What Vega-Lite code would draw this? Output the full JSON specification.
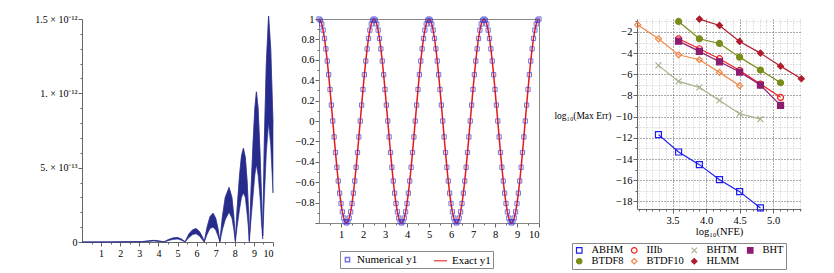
{
"$schema":"https://vega.github.io/schema/vega-lite/v6.json",
"background":"white",
"padding":{"left":34,"top":13,"right":2,"bottom":2},
"config":{"font":"Liberation Serif","axis":{"labelFont":"Liberation Serif","labelFontSize":10.5,"labelColor":"#000","titleFont":"Liberation Serif","titleFontWeight":"normal","titleFontSize":10.5,"titleColor":"#000","domainColor":"#666","tickColor":"#666","grid":false},"legend":{"labelFont":"Liberation Serif","labelFontSize":11,"labelColor":"#000"}},
"datasets":{
"err":[{"x":0,"lo":0,"hi":0},{"x":0.5,"lo":0,"hi":0.0002e-12},{"x":1,"lo":0,"hi":0.0005e-12},{"x":1.5,"lo":0,"hi":0.0008e-12},{"x":2,"lo":0,"hi":0.0012e-12},{"x":2.5,"lo":0.0005e-12,"hi":0.002e-12},{"x":2.8,"lo":0.001e-12,"hi":0.003e-12},{"x":3.1,"lo":0.0005e-12,"hi":0.002e-12},{"x":3.3,"lo":0.002e-12,"hi":0.005e-12},{"x":3.5,"lo":0.004e-12,"hi":0.008e-12},{"x":3.75,"lo":0.006e-12,"hi":0.011e-12},{"x":4.0,"lo":0.004e-12,"hi":0.008e-12},{"x":4.2,"lo":0.001e-12,"hi":0.003e-12},{"x":4.3,"lo":0,"hi":0.001e-12},{"x":4.5,"lo":0.008e-12,"hi":0.015e-12},{"x":4.75,"lo":0.017e-12,"hi":0.027e-12},{"x":5.0,"lo":0.02e-12,"hi":0.031e-12},{"x":5.2,"lo":0.012e-12,"hi":0.02e-12},{"x":5.4,"lo":0,"hi":0.002e-12},{"x":5.6,"lo":0.03e-12,"hi":0.055e-12},{"x":5.8,"lo":0.05e-12,"hi":0.083e-12},{"x":5.97,"lo":0.055e-12,"hi":0.09e-12},{"x":6.15,"lo":0.04e-12,"hi":0.07e-12},{"x":6.3,"lo":0.015e-12,"hi":0.035e-12},{"x":6.4,"lo":0,"hi":0.003e-12},{"x":6.55,"lo":0.05e-12,"hi":0.1e-12},{"x":6.7,"lo":0.09e-12,"hi":0.17e-12},{"x":6.86,"lo":0.1e-12,"hi":0.194e-12},{"x":7.0,"lo":0.08e-12,"hi":0.16e-12},{"x":7.12,"lo":0.04e-12,"hi":0.09e-12},{"x":7.22,"lo":0,"hi":0.005e-12},{"x":7.35,"lo":0.08e-12,"hi":0.17e-12},{"x":7.5,"lo":0.15e-12,"hi":0.3e-12},{"x":7.7,"lo":0.2e-12,"hi":0.367e-12},{"x":7.85,"lo":0.16e-12,"hi":0.3e-12},{"x":7.95,"lo":0.08e-12,"hi":0.17e-12},{"x":8.03,"lo":0,"hi":0.01e-12},{"x":8.12,"lo":0.1e-12,"hi":0.22e-12},{"x":8.25,"lo":0.22e-12,"hi":0.45e-12},{"x":8.35,"lo":0.3e-12,"hi":0.58e-12},{"x":8.45,"lo":0.33e-12,"hi":0.63e-12},{"x":8.55,"lo":0.3e-12,"hi":0.57e-12},{"x":8.65,"lo":0.18e-12,"hi":0.4e-12},{"x":8.72,"lo":0.08e-12,"hi":0.2e-12},{"x":8.76,"lo":0,"hi":0.01e-12},{"x":8.85,"lo":0.15e-12,"hi":0.35e-12},{"x":8.95,"lo":0.3e-12,"hi":0.65e-12},{"x":9.05,"lo":0.45e-12,"hi":0.9e-12},{"x":9.13,"lo":0.52e-12,"hi":1.01e-12},{"x":9.22,"lo":0.45e-12,"hi":0.9e-12},{"x":9.32,"lo":0.3e-12,"hi":0.6e-12},{"x":9.4,"lo":0.12e-12,"hi":0.3e-12},{"x":9.46,"lo":0.02e-12,"hi":0.04e-12},{"x":9.55,"lo":0.3e-12,"hi":0.7e-12},{"x":9.65,"lo":0.6e-12,"hi":1.2e-12},{"x":9.77,"lo":0.8e-12,"hi":1.52e-12},{"x":9.88,"lo":0.65e-12,"hi":1.3e-12},{"x":10,"lo":0.33e-12,"hi":0.8e-12}],
"sol":[{"x":0,"y":1},{"x":0.0625,"y":0.988},{"x":0.125,"y":0.951},{"x":0.1875,"y":0.891},{"x":0.25,"y":0.809},{"x":0.3125,"y":0.707},{"x":0.375,"y":0.588},{"x":0.4375,"y":0.454},{"x":0.5,"y":0.309},{"x":0.5625,"y":0.156},{"x":0.625,"y":0},{"x":0.6875,"y":-0.156},{"x":0.75,"y":-0.309},{"x":0.8125,"y":-0.454},{"x":0.875,"y":-0.588},{"x":0.9375,"y":-0.707},{"x":1,"y":-0.809},{"x":1.0625,"y":-0.891},{"x":1.125,"y":-0.951},{"x":1.1875,"y":-0.988},{"x":1.25,"y":-1},{"x":1.3125,"y":-0.988},{"x":1.375,"y":-0.951},{"x":1.4375,"y":-0.891},{"x":1.5,"y":-0.809},{"x":1.5625,"y":-0.707},{"x":1.625,"y":-0.588},{"x":1.6875,"y":-0.454},{"x":1.75,"y":-0.309},{"x":1.8125,"y":-0.156},{"x":1.875,"y":0},{"x":1.9375,"y":0.156},{"x":2,"y":0.309},{"x":2.0625,"y":0.454},{"x":2.125,"y":0.588},{"x":2.1875,"y":0.707},{"x":2.25,"y":0.809},{"x":2.3125,"y":0.891},{"x":2.375,"y":0.951},{"x":2.4375,"y":0.988},
{"x":2.5,"y":1},{"x":2.5625,"y":0.988},{"x":2.625,"y":0.951},{"x":2.6875,"y":0.891},{"x":2.75,"y":0.809},{"x":2.8125,"y":0.707},{"x":2.875,"y":0.588},{"x":2.9375,"y":0.454},{"x":3,"y":0.309},{"x":3.0625,"y":0.156},{"x":3.125,"y":0},{"x":3.1875,"y":-0.156},{"x":3.25,"y":-0.309},{"x":3.3125,"y":-0.454},{"x":3.375,"y":-0.588},{"x":3.4375,"y":-0.707},{"x":3.5,"y":-0.809},{"x":3.5625,"y":-0.891},{"x":3.625,"y":-0.951},{"x":3.6875,"y":-0.988},{"x":3.75,"y":-1},{"x":3.8125,"y":-0.988},{"x":3.875,"y":-0.951},{"x":3.9375,"y":-0.891},{"x":4,"y":-0.809},{"x":4.0625,"y":-0.707},{"x":4.125,"y":-0.588},{"x":4.1875,"y":-0.454},{"x":4.25,"y":-0.309},{"x":4.3125,"y":-0.156},{"x":4.375,"y":0},{"x":4.4375,"y":0.156},{"x":4.5,"y":0.309},{"x":4.5625,"y":0.454},{"x":4.625,"y":0.588},{"x":4.6875,"y":0.707},{"x":4.75,"y":0.809},{"x":4.8125,"y":0.891},{"x":4.875,"y":0.951},{"x":4.9375,"y":0.988},
{"x":5,"y":1},{"x":5.0625,"y":0.988},{"x":5.125,"y":0.951},{"x":5.1875,"y":0.891},{"x":5.25,"y":0.809},{"x":5.3125,"y":0.707},{"x":5.375,"y":0.588},{"x":5.4375,"y":0.454},{"x":5.5,"y":0.309},{"x":5.5625,"y":0.156},{"x":5.625,"y":0},{"x":5.6875,"y":-0.156},{"x":5.75,"y":-0.309},{"x":5.8125,"y":-0.454},{"x":5.875,"y":-0.588},{"x":5.9375,"y":-0.707},{"x":6,"y":-0.809},{"x":6.0625,"y":-0.891},{"x":6.125,"y":-0.951},{"x":6.1875,"y":-0.988},{"x":6.25,"y":-1},{"x":6.3125,"y":-0.988},{"x":6.375,"y":-0.951},{"x":6.4375,"y":-0.891},{"x":6.5,"y":-0.809},{"x":6.5625,"y":-0.707},{"x":6.625,"y":-0.588},{"x":6.6875,"y":-0.454},{"x":6.75,"y":-0.309},{"x":6.8125,"y":-0.156},{"x":6.875,"y":0},{"x":6.9375,"y":0.156},{"x":7,"y":0.309},{"x":7.0625,"y":0.454},{"x":7.125,"y":0.588},{"x":7.1875,"y":0.707},{"x":7.25,"y":0.809},{"x":7.3125,"y":0.891},{"x":7.375,"y":0.951},{"x":7.4375,"y":0.988},
{"x":7.5,"y":1},{"x":7.5625,"y":0.988},{"x":7.625,"y":0.951},{"x":7.6875,"y":0.891},{"x":7.75,"y":0.809},{"x":7.8125,"y":0.707},{"x":7.875,"y":0.588},{"x":7.9375,"y":0.454},{"x":8,"y":0.309},{"x":8.0625,"y":0.156},{"x":8.125,"y":0},{"x":8.1875,"y":-0.156},{"x":8.25,"y":-0.309},{"x":8.3125,"y":-0.454},{"x":8.375,"y":-0.588},{"x":8.4375,"y":-0.707},{"x":8.5,"y":-0.809},{"x":8.5625,"y":-0.891},{"x":8.625,"y":-0.951},{"x":8.6875,"y":-0.988},{"x":8.75,"y":-1},{"x":8.8125,"y":-0.988},{"x":8.875,"y":-0.951},{"x":8.9375,"y":-0.891},{"x":9,"y":-0.809},{"x":9.0625,"y":-0.707},{"x":9.125,"y":-0.588},{"x":9.1875,"y":-0.454},{"x":9.25,"y":-0.309},{"x":9.3125,"y":-0.156},{"x":9.375,"y":0},{"x":9.4375,"y":0.156},{"x":9.5,"y":0.309},{"x":9.5625,"y":0.454},{"x":9.625,"y":0.588},{"x":9.6875,"y":0.707},{"x":9.75,"y":0.809},{"x":9.8125,"y":0.891},{"x":9.875,"y":0.951},{"x":9.9375,"y":0.988},{"x":10,"y":1}],
"conv":[
{"m":"ABHM","x":3.29,"y":-11.7},{"m":"ABHM","x":3.59,"y":-13.34},{"m":"ABHM","x":3.9,"y":-14.53},{"m":"ABHM","x":4.2,"y":-15.95},{"m":"ABHM","x":4.5,"y":-17.08},{"m":"ABHM","x":4.81,"y":-18.62},
{"m":"IIIb","x":3.59,"y":-2.65},{"m":"IIIb","x":3.9,"y":-3.59},{"m":"IIIb","x":4.2,"y":-4.53},{"m":"IIIb","x":4.5,"y":-5.64},{"m":"IIIb","x":4.81,"y":-6.92},{"m":"IIIb","x":5.11,"y":-8.18},
{"m":"BHTM","x":3.29,"y":-5.16},{"m":"BHTM","x":3.59,"y":-6.67},{"m":"BHTM","x":3.9,"y":-7.24},{"m":"BHTM","x":4.2,"y":-8.47},{"m":"BHTM","x":4.5,"y":-9.72},{"m":"BHTM","x":4.81,"y":-10.23},
{"m":"BHT","x":3.59,"y":-2.87},{"m":"BHT","x":3.9,"y":-3.84},{"m":"BHT","x":4.2,"y":-4.82},{"m":"BHT","x":4.5,"y":-5.79},{"m":"BHT","x":4.81,"y":-7.02},{"m":"BHT","x":5.11,"y":-8.94},
{"m":"BTDF8","x":3.59,"y":-1.01},{"m":"BTDF8","x":3.9,"y":-2.65},{"m":"BTDF8","x":4.2,"y":-3.09},{"m":"BTDF8","x":4.5,"y":-4.38},{"m":"BTDF8","x":4.81,"y":-5.6},{"m":"BTDF8","x":5.11,"y":-6.8},
{"m":"BTDF10","x":2.98,"y":-1.33},{"m":"BTDF10","x":3.29,"y":-2.65},{"m":"BTDF10","x":3.59,"y":-4.16},{"m":"BTDF10","x":3.9,"y":-4.63},{"m":"BTDF10","x":4.2,"y":-5.82},{"m":"BTDF10","x":4.5,"y":-7.08},
{"m":"HLMM","x":3.9,"y":-0.79},{"m":"HLMM","x":4.2,"y":-1.39},{"m":"HLMM","x":4.5,"y":-2.9},{"m":"HLMM","x":4.81,"y":-4.0},{"m":"HLMM","x":5.11,"y":-5.23},{"m":"HLMM","x":5.42,"y":-6.42}]
},
"resolve":{"scale":{"stroke":"independent","fill":"independent","shape":"independent","size":"independent","color":"independent"},"legend":{"stroke":"independent","fill":"independent","shape":"independent","size":"independent"}},
"spacing":9,
"bounds":"full",
"hconcat":[
{"spacing":46,"bounds":"flush","hconcat":[
{"width":191,"height":223,"view":{"stroke":null},"data":{"name":"err"},
 "resolve":{"axis":{"x":"independent","y":"independent"}},
 "layer":[
 {"mark":{"type":"area","color":"#262b8c","strokeWidth":0.6,"stroke":"#262b8c"},
  "encoding":{
   "x":{"field":"x","type":"quantitative","scale":{"domain":[0,10],"nice":false},
    "axis":{"title":null,"orient":"bottom","values":[1,2,3,4,5,6,7,8,9,10],"tickSize":4,"labelPadding":2,"labelFontSize":10}},
   "y":{"field":"hi","type":"quantitative","scale":{"domain":[0,1.5e-12],"nice":false},
    "axis":{"title":null,"orient":"left","values":[0,5e-13,1e-12,1.5e-12],"labelExpr":"datum.value==0 ? '0' : abs(datum.value-5e-13)<1e-15 ? '5. × 10⁻¹³' : abs(datum.value-1e-12)<1e-15 ? '1. × 10⁻¹²' : '1.5 × 10⁻¹²'","tickSize":4,"labelPadding":1,"labelFontSize":10}},
   "y2":{"field":"lo"}}},
 {"mark":{"type":"line","color":"#262b8c","strokeWidth":0.5},
  "encoding":{
   "x":{"field":"x","type":"quantitative","axis":{"orient":"bottom","title":null,"labels":false,"domain":false,"tickSize":2,"values":[0.5,1.5,2.5,3.5,4.5,5.5,6.5,7.5,8.5,9.5]}},
   "y":{"field":"hi","type":"quantitative","axis":{"orient":"left","title":null,"labels":false,"domain":false,"tickSize":2,"values":[1e-13,2e-13,3e-13,4e-13,6e-13,7e-13,8e-13,9e-13,1.1e-12,1.2e-12,1.3e-12,1.4e-12]}}}}
 ]},
{"width":220,"height":204,"view":{"stroke":"#888"},"data":{"name":"sol"},
 "resolve":{"axis":{"x":"independent","y":"independent"}},
 "layer":[
 {"mark":{"type":"line","strokeWidth":1.5},
  "encoding":{
   "x":{"field":"x","type":"quantitative","scale":{"domain":[0,10],"nice":false},
    "axis":{"title":null,"orient":"bottom","values":[1,2,3,4,5,6,7,8,9,10],"tickSize":4,"labelPadding":2,"domainColor":"#888"}},
   "y":{"field":"y","type":"quantitative","scale":{"domain":[-1,1],"nice":false},
    "axis":{"title":null,"orient":"left","values":[-1,-0.8,-0.6,-0.4,-0.2,0,0.2,0.4,0.6,0.8,1],"labelExpr":"datum.value==1 ? '1' : abs(datum.value)<0.001 ? '0' : datum.value<-0.95 ? '' : (datum.value<0 ? '−' : '') + format(abs(datum.value),'.1f')","tickSize":4,"labelPadding":1,"domainColor":"#888"}},
   "stroke":{"datum":"Exact y1","type":"nominal","scale":{"domain":["Numerical y1","Exact y1"],"range":["#3b3bd0","#e81818"]},"legend":{"title":null,"orient":"none","legendX":258,"legendY":232,"direction":"horizontal","strokeColor":"#888","padding":2,"labelOffset":4,"columnPadding":12,"symbolStrokeWidth":1.5}}}},
 {"mark":{"type":"point","filled":false,"strokeWidth":1},
  "encoding":{
   "x":{"field":"x","type":"quantitative","axis":{"orient":"bottom","title":null,"labels":false,"domain":false,"tickSize":2,"values":[0.5,1.5,2.5,3.5,4.5,5.5,6.5,7.5,8.5,9.5]}},
   "y":{"field":"y","type":"quantitative","axis":{"orient":"left","title":null,"labels":false,"domain":false,"tickSize":2,"values":[-0.9,-0.7,-0.5,-0.3,-0.1,0.1,0.3,0.5,0.7,0.9]}},
   "stroke":{"datum":"Numerical y1","type":"nominal"},
   "shape":{"datum":"Numerical y1","type":"nominal","scale":{"domain":["Numerical y1","Exact y1"],"range":["square","stroke"]},"legend":{"title":null,"orient":"none","legendX":258,"legendY":232,"direction":"horizontal","strokeColor":"#888","padding":2,"labelOffset":4,"columnPadding":12,"symbolStrokeWidth":1.5}},
   "size":{"datum":"Numerical y1","type":"nominal","scale":{"domain":["Numerical y1","Exact y1"],"range":[18,170]},"legend":{"title":null,"orient":"none","legendX":258,"legendY":232,"direction":"horizontal","strokeColor":"#888","padding":2,"labelOffset":4,"columnPadding":12,"symbolStrokeWidth":1.5}}}}
 ]}
]},
{"width":164,"height":190,"view":{"stroke":null},"data":{"name":"conv"},
 "resolve":{"axis":{"x":"independent","y":"independent"}},
 "layer":[
 {"mark":{"type":"line","strokeWidth":1.2},
  "encoding":{
   "x":{"field":"x","type":"quantitative","scale":{"domain":[2.97,5.415],"nice":false,"zero":false},
    "axis":{"orient":"bottom","title":null,"labels":false,"domain":false,"tickSize":2,"values":[3,3.1,3.2,3.3,3.4,3.6,3.7,3.8,3.9,4.1,4.2,4.3,4.4,4.6,4.7,4.8,4.9,5.1,5.2,5.3,5.4],"grid":true,"gridDash":[1,2],"gridColor":"#c4c4c4"}},
   "y":{"field":"y","type":"quantitative","scale":{"domain":[-18.72,-0.78],"nice":false,"zero":false},
    "axis":{"orient":"left","title":null,"labels":false,"domain":false,"tickSize":2,"values":[-17,-15,-13,-11,-9,-7,-5,-3,-1],"grid":true,"gridDash":[1,2],"gridColor":"#c4c4c4"}},
   "stroke":{"field":"m","type":"nominal","scale":{"domain":["ABHM","IIIb","BHTM","BHT","BTDF8","BTDF10","HLMM"],"range":["#1c1cf0","#f01c1c","#a6b38e","#8e1c6e","#7a8c1a","#f0884a","#b01c2e"]},"legend":{"title":null,"orient":"none","legendX":-65,"legendY":224,"columns":4,"direction":"horizontal","strokeColor":"#888","padding":2,"symbolSize":30,"labelOffset":7,"labelFontSize":10.5,"columnPadding":5,"rowPadding":0,"symbolStrokeWidth":1.2}}}},
 {"mark":{"type":"point","strokeWidth":1.2,"size":36,"opacity":1},
  "encoding":{
   "x":{"field":"x","type":"quantitative",
    "axis":{"orient":"bottom","title":"log₁₀(NFE)","titlePadding":1,"values":[3.5,4,4.5,5],"tickSize":4,"grid":true,"gridDash":[1,2],"gridColor":"#555","labelPadding":2}},
   "y":{"field":"y","type":"quantitative",
    "axis":{"orient":"left","title":"log₁₀(Max Err)","titleFontSize":9.5,"titleAngle":0,"titleAlign":"right","titleBaseline":"middle","titleX":-26,"titleY":96,"values":[-18,-16,-14,-12,-10,-8,-6,-4,-2],"labelExpr":"'−' + toString(abs(round(datum.value)))","tickSize":4,"grid":true,"gridDash":[1,2],"gridColor":"#555","labelPadding":1}},
   "stroke":{"field":"m","type":"nominal","legend":{"title":null,"orient":"none","legendX":-65,"legendY":224,"columns":4,"direction":"horizontal","strokeColor":"#888","padding":2,"symbolSize":30,"labelOffset":7,"labelFontSize":10.5,"columnPadding":5,"rowPadding":0,"symbolStrokeWidth":1.2}},
   "fill":{"field":"m","type":"nominal","scale":{"domain":["ABHM","IIIb","BHTM","BHT","BTDF8","BTDF10","HLMM"],"range":["transparent","transparent","transparent","#8e1c6e","#7a8c1a","transparent","#b01c2e"]},"legend":{"title":null,"orient":"none","legendX":-65,"legendY":224,"columns":4,"direction":"horizontal","strokeColor":"#888","padding":2,"symbolSize":30,"labelOffset":7,"labelFontSize":10.5,"columnPadding":5,"rowPadding":0,"symbolStrokeWidth":1.2}},
   "shape":{"field":"m","type":"nominal","scale":{"domain":["ABHM","IIIb","BHTM","BHT","BTDF8","BTDF10","HLMM"],"range":["square","circle","M-1,-1L1,1M1,-1L-1,1","square","circle","diamond","diamond"]},"legend":{"title":null,"orient":"none","legendX":-65,"legendY":224,"columns":4,"direction":"horizontal","strokeColor":"#888","padding":2,"symbolSize":30,"labelOffset":7,"labelFontSize":10.5,"columnPadding":5,"rowPadding":0,"symbolStrokeWidth":1.2}}}}
 ]}
]
}
